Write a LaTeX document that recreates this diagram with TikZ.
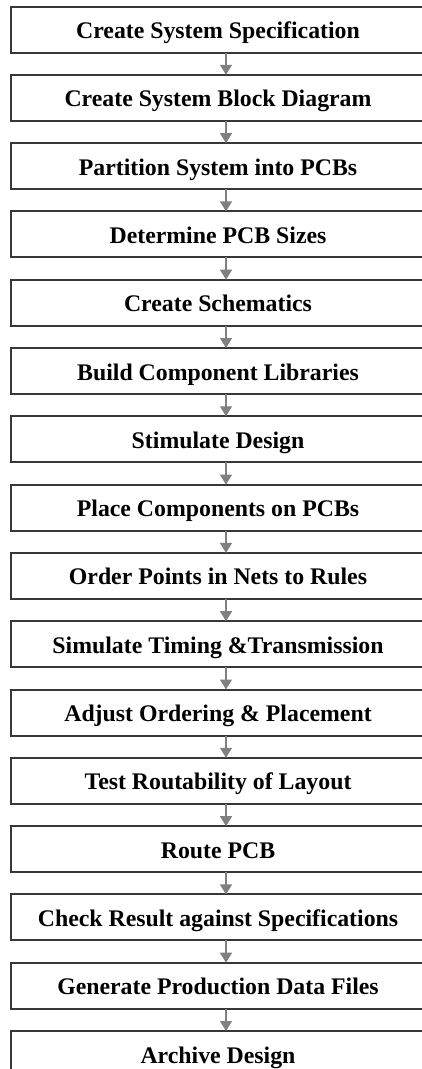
\documentclass[tikz,border=0pt]{standalone}
\usepackage{fontspec}
\setmainfont{Liberation Serif}
\usetikzlibrary{arrows.meta,positioning}
\definecolor{boxline}{RGB}{55,55,55}
\definecolor{arrowgray}{RGB}{128,128,128}
\tikzset{
  flow step/.style={
    rectangle, draw=boxline, line width=2pt, fill=white,
    minimum width=414pt, minimum height=46pt,
    inner sep=0pt, outer sep=0pt,
    text height=18pt, text depth=0pt,
    font=\fontsize{23.8}{28}\selectfont\bfseries
  },
  flow arrow/.style={-{Triangle[length=10pt,width=12pt]}, line width=1.3pt, arrowgray}
}

\begin{document}
\begin{tikzpicture}[x=1pt, y=1pt, node distance=22.3pt]
    \clip (0,0) rectangle (422,-1069);
    \node[flow step] at (218,-29.5) (spec) {Create System Specification};
    \node[flow step, below=of spec] (blockdiagram) {Create System Block Diagram};
    \node[flow step, below=of blockdiagram] (partition) {Partition System into PCBs};
    \node[flow step, below=of partition] (sizes) {Determine PCB Sizes};
    \node[flow step, below=of sizes] (schematics) {Create Schematics};
    \node[flow step, below=of schematics] (libraries) {Build Component Libraries};
    \node[flow step, below=of libraries] (stimulate) {Stimulate Design};
    \node[flow step, below=of stimulate] (placement) {Place Components on PCBs};
    \node[flow step, below=of placement] (ordering) {Order Points in Nets to Rules};
    \node[flow step, below=of ordering] (timing) {Simulate Timing \&Transmission};
    \node[flow step, below=of timing] (adjust) {Adjust Ordering \& Placement};
    \node[flow step, below=of adjust] (routability) {Test Routability of Layout};
    \node[flow step, below=of routability] (route) {Route PCB};
    \node[flow step, below=of route] (check) {Check Result against Specifications};
    \node[flow step, below=of check] (production) {Generate Production Data Files};
    \node[flow step, below=of production] (archive) {Archive Design};
    % arrows sit a little right of the box centre
    \draw[flow arrow] ([xshift=8pt]spec.south) -- ([xshift=8pt]blockdiagram.north);
    \draw[flow arrow] ([xshift=8pt]blockdiagram.south) -- ([xshift=8pt]partition.north);
    \draw[flow arrow] ([xshift=8pt]partition.south) -- ([xshift=8pt]sizes.north);
    \draw[flow arrow] ([xshift=8pt]sizes.south) -- ([xshift=8pt]schematics.north);
    \draw[flow arrow] ([xshift=8pt]schematics.south) -- ([xshift=8pt]libraries.north);
    \draw[flow arrow] ([xshift=8pt]libraries.south) -- ([xshift=8pt]stimulate.north);
    \draw[flow arrow] ([xshift=8pt]stimulate.south) -- ([xshift=8pt]placement.north);
    \draw[flow arrow] ([xshift=8pt]placement.south) -- ([xshift=8pt]ordering.north);
    \draw[flow arrow] ([xshift=8pt]ordering.south) -- ([xshift=8pt]timing.north);
    \draw[flow arrow] ([xshift=8pt]timing.south) -- ([xshift=8pt]adjust.north);
    \draw[flow arrow] ([xshift=8pt]adjust.south) -- ([xshift=8pt]routability.north);
    \draw[flow arrow] ([xshift=8pt]routability.south) -- ([xshift=8pt]route.north);
    \draw[flow arrow] ([xshift=8pt]route.south) -- ([xshift=8pt]check.north);
    \draw[flow arrow] ([xshift=8pt]check.south) -- ([xshift=8pt]production.north);
    \draw[flow arrow] ([xshift=8pt]production.south) -- ([xshift=8pt]archive.north);
  \end{tikzpicture}
\end{document}
